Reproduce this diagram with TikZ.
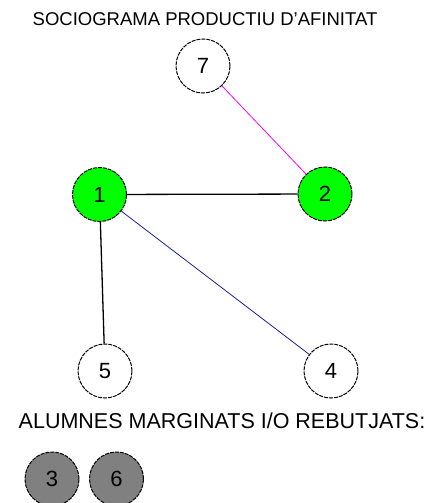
\documentclass[tikz,border=0pt]{standalone}
\usepackage{fontspec}
\setmainfont{Liberation Sans}
\usepackage{tikz}

\definecolor{nodegreen}{RGB}{0,255,0}
\definecolor{nodegrey}{RGB}{128,128,128}
\definecolor{linkpink}{RGB}{255,0,255}
\definecolor{linkblue}{RGB}{30,30,150}

\tikzset{
  pupil/.style={circle,draw=black,line width=1pt,dash pattern=on 4pt off 1pt,
    minimum size=54pt,inner sep=0pt,font=\fontsize{22}{22}\selectfont},
  chosen/.style={pupil,fill=nodegreen},
  rejected/.style={pupil,fill=nodegrey},
  plain/.style={pupil,fill=white},
  heading/.style={inner sep=0pt}
}

\begin{document}
\begin{tikzpicture}[x=1pt,y=-1pt]
		\useasboundingbox (0,0) rectangle (434,503);

		% Titles
		\node[heading,font=\fontsize{18.5}{18.5}\selectfont] (title) at (205,19) {SOCIOGRAMA PRODUCTIU D'AFINITAT};
		\node[heading,font=\fontsize{21.5}{21.5}\selectfont] (marg) at (222,421) {ALUMNES MARGINATS I/O REBUTJATS:};

		% Pupils
		\node[plain] (n7) at (203,66) {7};
		\node[chosen] (n1) at (99.5,194.5) {1};
		\node[chosen] (n2) at (325,194) {2};
		\node[plain] (n5) at (105,371) {5};
		\node[plain] (n4) at (331,371) {4};

		% Links
		\draw[linkpink,line width=0.8pt] (n7) -- (n2);
		\draw[black,line width=1.3pt] (n1) -- (n2);
		\draw[black,line width=1.3pt] (n1) -- (n5);
		\draw[linkblue,line width=0.8pt] (n1) -- (n4);

		% Marginal pupils
		\node[rejected] (n3) at (52,479) {3};
		\node[rejected] (n6) at (116.5,479) {6};
	\end{tikzpicture}
\end{document}
